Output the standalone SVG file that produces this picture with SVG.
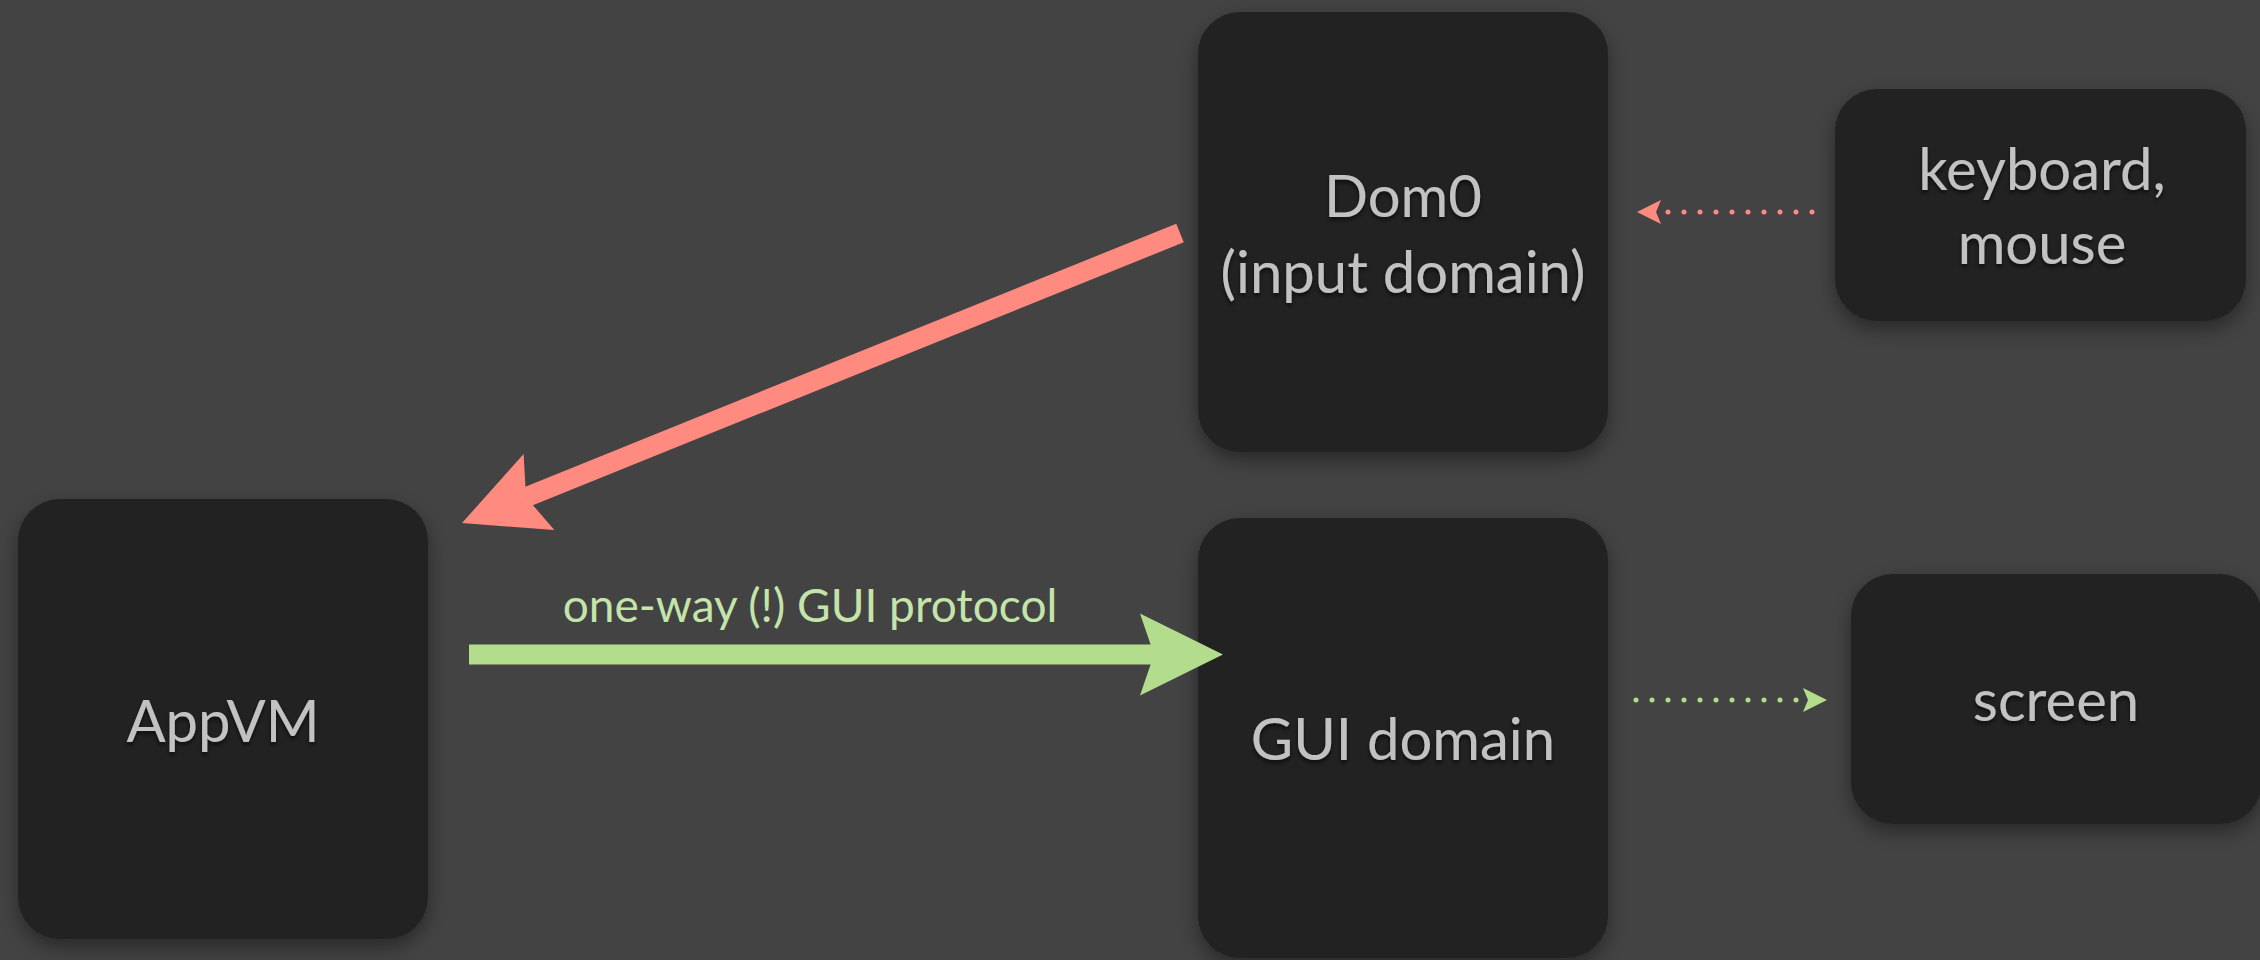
<svg xmlns="http://www.w3.org/2000/svg" width="2260" height="960" viewBox="0 0 2260 960">
  <defs>
    <style>
      .box { fill: #212121; filter: url(#box-shadow); }
      .label { font-family: Lato, "Open Sans", "Liberation Sans", sans-serif; font-size: 58px; fill: #c2c2c2; text-anchor: middle; filter: url(#text-shadow); }
      .edge-label { font-family: Lato, "Open Sans", "Liberation Sans", sans-serif; font-size: 46px; fill: #c4e4aa; text-anchor: middle; }
      .thick { fill: none; stroke-width: 20; stroke-linecap: butt; }
      .dotted { fill: none; stroke-width: 5; stroke-linecap: round; stroke-dasharray: 0 16; }
      .red { stroke: #ff8b80; }
      .green { stroke: #b3dd8c; }
    </style>
    <filter id="box-shadow" x="-20%" y="-20%" width="140%" height="140%">
      <feDropShadow dx="0" dy="8" stdDeviation="10" flood-color="#000" flood-opacity="0.4"/>
    </filter>
    <filter id="text-shadow" x="-10%" y="-20%" width="120%" height="150%">
      <feDropShadow dx="0" dy="3" stdDeviation="2" flood-color="#000" flood-opacity="0.6"/>
    </filter>
    <!-- notched heads for the thick arrows: tip at x=83, notch at x=14 -->
    <marker id="head-red" markerUnits="userSpaceOnUse" viewBox="0 -42 84 84" markerWidth="84" markerHeight="84" refX="14" refY="0" orient="auto" overflow="visible">
      <path d="M0,-41 L83,0 L0,41 L14,0 z" fill="#ff8b80"/>
    </marker>
    <marker id="head-green" markerUnits="userSpaceOnUse" viewBox="0 -42 84 84" markerWidth="84" markerHeight="84" refX="14" refY="0" orient="auto" overflow="visible">
      <path d="M0,-41 L83,0 L0,41 L14,0 z" fill="#b3dd8c"/>
    </marker>
    <!-- small heads for the dotted arrows -->
    <marker id="dot-head-red" markerUnits="userSpaceOnUse" viewBox="0 -13 26 26" markerWidth="26" markerHeight="26" refX="5" refY="0" orient="auto" overflow="visible">
      <path d="M0,-12 L24,0 L0,12 L5,0 z" fill="#ff8b80"/>
    </marker>
    <marker id="dot-head-green" markerUnits="userSpaceOnUse" viewBox="0 -13 26 26" markerWidth="26" markerHeight="26" refX="5" refY="0" orient="auto" overflow="visible">
      <path d="M0,-12 L24,0 L0,12 L5,0 z" fill="#b3dd8c"/>
    </marker>
  </defs>

  <rect width="2260" height="960" fill="#434343"/>

  <g id="dom0">
    <rect class="box" x="1198" y="12" width="410" height="440" rx="42"/>
    <text class="label" x="1403" y="217">Dom0</text>
    <text class="label" x="1403" y="293">(input domain)</text>
  </g>

  <g id="keyboard-mouse">
    <rect class="box" x="1835" y="89" width="411" height="232" rx="42"/>
    <text class="label" x="2042" y="190">keyboard,</text>
    <text class="label" x="2042" y="264">mouse</text>
  </g>

  <g id="appvm">
    <rect class="box" x="18" y="499" width="410" height="440" rx="42"/>
    <text class="label" x="223" y="742">AppVM</text>
  </g>

  <g id="gui-domain">
    <rect class="box" x="1198" y="518" width="410" height="440" rx="42"/>
    <text class="label" x="1403" y="760">GUI domain</text>
  </g>

  <g id="screen">
    <rect class="box" x="1851" y="574" width="411" height="250" rx="42"/>
    <text class="label" x="2056" y="721">screen</text>
  </g>

  <g id="connectors">
    <!-- input events: Dom0 to AppVM -->
    <line class="thick red" x1="1180" y1="233" x2="526" y2="497.2" marker-end="url(#head-red)"/>
    <!-- GUI protocol: AppVM to GUI domain -->
    <line class="thick green" x1="469" y1="654.5" x2="1154" y2="654.5" marker-end="url(#head-green)"/>
    <text class="edge-label" x="810" y="622">one-way (!) GUI protocol</text>
    <!-- keyboard, mouse to Dom0 -->
    <line class="dotted red" x1="1812" y1="212" x2="1656" y2="212" marker-end="url(#dot-head-red)"/>
    <!-- GUI domain to screen -->
    <line class="dotted green" x1="1636" y1="700" x2="1808" y2="700" marker-end="url(#dot-head-green)"/>
  </g>
</svg>
